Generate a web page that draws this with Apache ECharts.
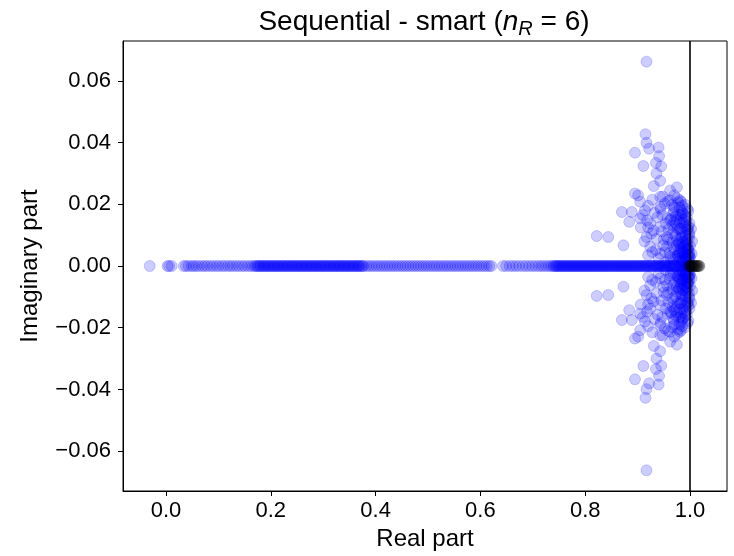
<!DOCTYPE html>
<html>
<head>
<meta charset="utf-8">
<script src="https://cdn.jsdelivr.net/npm/echarts@6/dist/echarts.min.js"></script>
<style>html,body{margin:0;padding:0;background:#fff}#c{width:734px;height:556px}</style>
</head>
<body>
<div id="c"></div>
<script>
// Real eigenvalues (imaginary part = 0), blue
var realEig = [
  -0.031, 0.003, 0.006, 0.011, 0.034, 0.038, 0.043, 0.049, 0.053, 0.058, 0.063, 0.069, 0.074, 0.079, 0.085,
  0.090, 0.096, 0.101, 0.107, 0.112, 0.118, 0.123, 0.128, 0.134, 0.139, 0.145, 0.150, 0.156, 0.161, 0.166,
  0.170, 0.172, 0.175, 0.177, 0.179, 0.181, 0.184, 0.186, 0.188, 0.190, 0.193, 0.195, 0.197, 0.199, 0.202,
  0.204, 0.206, 0.208, 0.211, 0.213, 0.215, 0.217, 0.220, 0.222, 0.224, 0.226, 0.229, 0.231, 0.233, 0.235,
  0.238, 0.240, 0.242, 0.244, 0.247, 0.249, 0.251, 0.253, 0.256, 0.258, 0.260, 0.262, 0.265, 0.267, 0.269,
  0.271, 0.274, 0.276, 0.278, 0.280, 0.283, 0.285, 0.287, 0.289, 0.292, 0.294, 0.296, 0.298, 0.301, 0.303,
  0.305, 0.307, 0.310, 0.312, 0.314, 0.316, 0.319, 0.321, 0.323, 0.325, 0.328, 0.330, 0.332, 0.334, 0.337,
  0.339, 0.341, 0.343, 0.346, 0.348, 0.350, 0.352, 0.355, 0.357, 0.359, 0.361, 0.364, 0.366, 0.368, 0.370,
  0.373, 0.375, 0.377,
  0.382, 0.387, 0.392, 0.397, 0.402, 0.407, 0.412, 0.417, 0.422, 0.427, 0.432, 0.437, 0.442, 0.447, 0.452,
  0.457, 0.462, 0.467, 0.472, 0.477, 0.482, 0.487, 0.492, 0.497, 0.502, 0.507, 0.512, 0.517, 0.522, 0.527,
  0.532, 0.537, 0.542, 0.547, 0.552, 0.557, 0.562, 0.567, 0.572, 0.577, 0.582, 0.587, 0.592, 0.597, 0.602,
  0.607, 0.612, 0.617, 0.621,
  0.643, 0.649, 0.656, 0.662, 0.668, 0.674, 0.681, 0.687, 0.693, 0.699, 0.705, 0.711, 0.716, 0.721, 0.726,
  0.731, 0.735,
  0.739, 0.741, 0.743, 0.745, 0.747, 0.749, 0.751, 0.753, 0.755, 0.757, 0.759, 0.761, 0.763, 0.765, 0.767,
  0.769, 0.771, 0.773, 0.775, 0.777, 0.779, 0.781, 0.783, 0.785, 0.787, 0.789, 0.791, 0.793, 0.795, 0.797,
  0.799, 0.801, 0.803, 0.805, 0.807, 0.809, 0.811, 0.813, 0.815, 0.817, 0.819, 0.821, 0.823, 0.825, 0.827,
  0.829, 0.831, 0.833, 0.835, 0.837, 0.839, 0.841, 0.843, 0.845, 0.847, 0.849, 0.851, 0.853, 0.855, 0.857,
  0.859, 0.861, 0.863, 0.865, 0.867, 0.869, 0.871, 0.873, 0.875, 0.877, 0.879, 0.881, 0.883, 0.885, 0.887,
  0.889, 0.891, 0.893, 0.895, 0.897, 0.899, 0.901, 0.903, 0.905, 0.907, 0.909, 0.911, 0.913, 0.915, 0.917,
  0.919, 0.921, 0.923, 0.925, 0.927, 0.929, 0.931, 0.933, 0.935, 0.937, 0.939, 0.941, 0.943, 0.945, 0.947,
  0.949, 0.951, 0.953, 0.955, 0.957, 0.959, 0.961, 0.963, 0.965, 0.967, 0.969, 0.971, 0.973, 0.975, 0.977,
  0.979, 0.981, 0.983, 0.985, 0.987, 0.989, 0.991, 0.993, 0.995, 0.997, 0.999
];
// Complex conjugate pairs: real parts and positive imaginary parts (blue)
var pairRe = [
  0.917, 0.915, 0.917, 0.922, 0.940, 0.895, 0.941, 0.935, 0.911, 0.945, 0.936, 0.943, 0.931, 0.895, 0.901,
  0.970, 0.943, 0.962, 0.981, 0.905, 0.952, 0.943, 0.870, 0.889, 0.914, 0.987, 0.884, 0.905, 0.962, 0.924,
  0.943, 0.968, 0.981, 0.822, 0.844, 0.873, 0.917, 0.936, 0.956, 0.975, 0.924, 0.949, 0.968, 0.987, 0.943,
  0.981, 0.994, 0.920, 0.962,
  0.952, 0.958, 0.963, 0.967, 0.971, 0.974, 0.977, 0.979, 0.982, 0.984, 0.986, 0.988, 0.990, 0.992, 0.994,
  0.995, 0.996, 0.997, 0.998, 0.999, 0.993, 0.985, 0.978, 0.970, 0.957, 0.947, 0.950, 0.930, 0.920, 0.913,
  0.940, 0.928, 0.906,
  0.953, 0.956, 0.959, 0.961, 0.964, 0.966, 0.968, 0.969, 0.972, 0.973, 0.975, 0.976, 0.978, 0.979, 0.980,
  0.981, 0.982, 0.983, 0.984, 0.985, 0.986, 0.987, 0.988, 0.989, 0.990, 0.991, 0.992, 0.993, 0.994, 0.994,
  0.995, 0.996, 0.996, 0.997, 0.998, 0.998, 0.999, 0.999, 1.000, 1.000, 0.997, 0.991, 0.983, 0.976, 0.965,
  0.958, 0.944, 0.938, 0.932, 0.926, 0.918, 0.910, 0.935, 0.946, 0.954, 0.962, 0.975, 0.948, 0.920, 0.928,
  1.003, 1.004, 1.002,
  0.977, 0.979, 0.982, 0.984, 0.986, 0.988, 0.990, 0.992, 0.994, 0.996, 0.998, 0.999, 0.981, 0.985, 0.989,
  0.993, 0.997, 0.974, 0.978, 0.983, 0.987, 0.991, 0.995, 0.966, 0.970, 0.973, 0.980, 0.984, 0.988, 0.968
];
var pairIm = [
  0.0662, 0.0427, 0.0399, 0.0380, 0.0384, 0.0367, 0.0356, 0.0334, 0.0324, 0.0323, 0.0300, 0.0276, 0.0259, 0.0235, 0.0229,
  0.0229, 0.0224, 0.0213, 0.0213, 0.0208, 0.0202, 0.0191, 0.0175, 0.0175, 0.0180, 0.0170, 0.0143, 0.0154, 0.0148, 0.0138,
  0.0127, 0.0116, 0.0122, 0.0097, 0.0094, 0.0067, 0.0094, 0.0089, 0.0094, 0.0083, 0.0062, 0.0067, 0.0062, 0.0073, 0.0040,
  0.0040, 0.0055, 0.0035, 0.0030,
  0.0045, 0.0085, 0.0025, 0.0105, 0.0055, 0.0135, 0.0035, 0.0075, 0.0165, 0.0015, 0.0095, 0.0045, 0.0125, 0.0025, 0.0085,
  0.0185, 0.0055, 0.0015, 0.0035, 0.0105, 0.0145, 0.0195, 0.0205, 0.0190, 0.0155, 0.0165, 0.0085, 0.0115, 0.0125, 0.0080,
  0.0025, 0.0045, 0.0125,
  0.0012, 0.0062, 0.0118, 0.0042, 0.0152, 0.0078, 0.0021, 0.0178, 0.0098, 0.0031, 0.0068, 0.0122, 0.0015, 0.0048, 0.0142,
  0.0088, 0.0026, 0.0058, 0.0112, 0.0172, 0.0038, 0.0078, 0.0018, 0.0132, 0.0062, 0.0028, 0.0098, 0.0046, 0.0012, 0.0158,
  0.0072, 0.0034, 0.0118, 0.0052, 0.0022, 0.0088, 0.0042, 0.0138, 0.0065, 0.0028, 0.0178, 0.0198, 0.0208, 0.0218, 0.0198,
  0.0210, 0.0185, 0.0158, 0.0172, 0.0105, 0.0148, 0.0165, 0.0052, 0.0112, 0.0138, 0.0245, 0.0255, 0.0225, 0.0195, 0.0215,
  0.0040, 0.0080, 0.0120,
  0.0032, 0.0072, 0.0050, 0.0092, 0.0020, 0.0062, 0.0036, 0.0080, 0.0024, 0.0058, 0.0100, 0.0030, 0.0118, 0.0044, 0.0108,
  0.0068, 0.0128, 0.0150, 0.0168, 0.0154, 0.0140, 0.0162, 0.0120, 0.0132, 0.0142, 0.0162, 0.0190, 0.0180, 0.0150, 0.0172
];
// Eigenvalues at/above 1 (black)
var blackRe = [0.998, 1.000, 1.002, 1.004, 1.006, 1.008, 1.010, 1.012, 1.014, 1.016, 1.018];

var xTicks = [0.0, 0.2, 0.4, 0.6, 0.8, 1.0];
var yTicks = [-0.06, -0.04, -0.02, 0.00, 0.02, 0.04, 0.06];
var xRange = [-0.082, 1.0706];
var yRange = [-0.0729, 0.0729];
var unitLine = 1.0;

var blueData = [];
realEig.forEach(function (r) { blueData.push([r, 0]); });
pairRe.forEach(function (r, i) { blueData.push([r, pairIm[i]]); blueData.push([r, -pairIm[i]]); });
var blackData = blackRe.map(function (r) { return [r, 0]; });

var FONT = 'Liberation Sans, Arial, sans-serif';
var chart = echarts.init(document.getElementById('c'), null, {renderer: 'canvas'});
chart.setOption({
  animation: false,
  backgroundColor: '#fff',
  grid: {left: 123, right: 7, top: 41, bottom: 65, show: true, borderColor: '#000', borderWidth: 1, backgroundColor: 'transparent'},
  graphic: [{
    type: 'text', x: 424, y: 22,
    style: {
      text: 'Sequential - smart ({i|n}{s|R} = 6)',
      font: '28px ' + FONT, fill: '#000', align: 'center', verticalAlign: 'middle',
      rich: {
        i: {fontStyle: 'italic', fontSize: 28, fontFamily: FONT, fill: '#000'},
        s: {fontStyle: 'italic', fontSize: 20, fontFamily: FONT, fill: '#000', padding: [14, 0, 0, 0]}
      }
    }
  }],
  xAxis: {
    type: 'value', min: xRange[0], max: xRange[1],
    splitLine: {show: false},
    axisLine: {show: true, onZero: false, lineStyle: {color: '#000', width: 1}},
    axisTick: {show: true, inside: false, length: 5, lineStyle: {color: '#000'}, customValues: xTicks},
    axisLabel: {customValues: xTicks, color: '#000', fontSize: 22, fontFamily: FONT, margin: 9,
      formatter: function (v) { return v.toFixed(1); }},
    name: 'Real part', nameLocation: 'middle', nameGap: 36,
    nameTextStyle: {color: '#000', fontSize: 24, fontFamily: FONT}
  },
  yAxis: {
    type: 'value', min: yRange[0], max: yRange[1],
    splitLine: {show: false},
    axisLine: {show: true, onZero: false, lineStyle: {color: '#000', width: 1}},
    axisTick: {show: true, inside: false, length: 5, lineStyle: {color: '#000'}, customValues: yTicks},
    axisLabel: {customValues: yTicks, color: '#000', fontSize: 22, fontFamily: FONT, margin: 12,
      formatter: function (v) { return (v < -1e-9 ? '\u2212' : '') + Math.abs(v).toFixed(2); }},
    name: 'Imaginary part', nameLocation: 'middle', nameGap: 81, nameRotate: 90,
    nameTextStyle: {color: '#000', fontSize: 24, fontFamily: FONT}
  },
  series: [
    {
      type: 'scatter', data: blueData, symbol: 'circle', symbolSize: 11,
      itemStyle: {color: 'rgba(0,0,255,0.25)', borderColor: 'rgba(0,0,255,0.22)', borderWidth: 1},
      z: 2, silent: true, large: false
    },
    {
      type: 'scatter', data: blackData, symbol: 'circle', symbolSize: 11,
      itemStyle: {color: 'rgba(0,0,0,0.3)', borderColor: 'rgba(0,0,0,0.3)', borderWidth: 1},
      z: 3, silent: true,
      markLine: {
        silent: true, symbol: ['none', 'none'], label: {show: false},
        lineStyle: {color: '#000', width: 1.6, type: 'solid'},
        data: [{xAxis: unitLine}]
      }
    }
  ]
});
</script>
</body>
</html>
